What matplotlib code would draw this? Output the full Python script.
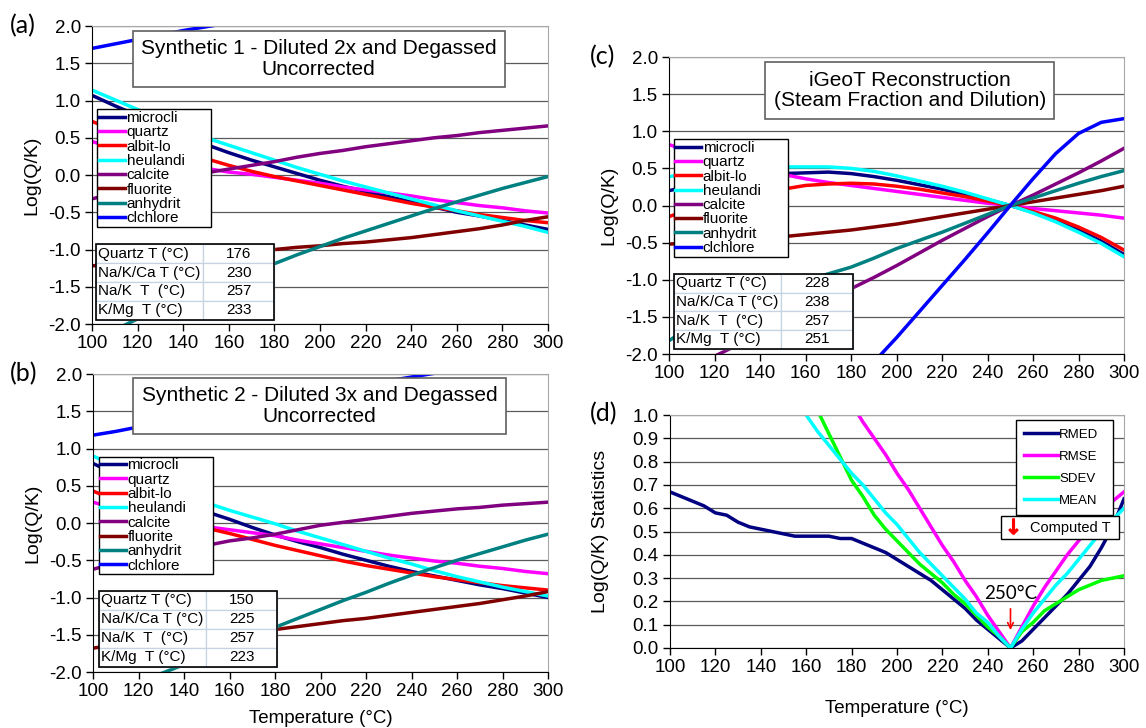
import numpy as np
import matplotlib
matplotlib.use("Agg")
import matplotlib.pyplot as plt
from matplotlib.lines import Line2D
from matplotlib.patches import Rectangle

plt.rcParams['font.family'] = ['Liberation Sans', 'DejaVu Sans']
plt.rcParams['axes.unicode_minus'] = False

# ---------------- data ----------------
T = list(range(100, 301, 10))
minerals = ['microcli', 'quartz', 'albit-lo', 'heulandi', 'calcite', 'fluorite', 'anhydrit', 'clchlore']
colors = ['#000080', '#FF00FF', '#FF0000', '#00FFFF', '#800080', '#800000', '#008080', '#0000FF']

# (a) Synthetic 1
a_microcli = [1.07, 0.93, 0.80, 0.66, 0.53, 0.41, 0.30, 0.20, 0.11, 0.02, -0.07, -0.15, -0.22, -0.29, -0.36, -0.43, -0.50, -0.55, -0.61, -0.67, -0.73]
a_quartz = [0.45, 0.36, 0.28, 0.21, 0.14, 0.09, 0.04, 0.01, -0.03, -0.07, -0.11, -0.16, -0.20, -0.24, -0.28, -0.33, -0.37, -0.41, -0.44, -0.48, -0.51]
a_albit = [0.72, 0.60, 0.49, 0.39, 0.30, 0.22, 0.13, 0.05, -0.02, -0.08, -0.14, -0.20, -0.26, -0.32, -0.38, -0.43, -0.48, -0.53, -0.57, -0.61, -0.64]
a_heulandi = [1.14, 1.01, 0.88, 0.75, 0.62, 0.50, 0.40, 0.30, 0.20, 0.10, 0.01, -0.08, -0.16, -0.24, -0.32, -0.40, -0.48, -0.55, -0.62, -0.69, -0.77]
a_calcite = [-0.32, -0.24, -0.17, -0.10, -0.03, 0.03, 0.08, 0.13, 0.18, 0.24, 0.29, 0.33, 0.38, 0.42, 0.46, 0.50, 0.53, 0.57, 0.60, 0.63, 0.66]
a_fluorite = [-1.22, -1.18, -1.15, -1.12, -1.09, -1.07, -1.05, -1.03, -1.00, -0.97, -0.95, -0.92, -0.90, -0.87, -0.84, -0.80, -0.76, -0.72, -0.67, -0.61, -0.56]
a_anhydrit = [-2.25, -2.08, -1.93, -1.78, -1.63, -1.49, -1.36, -1.27, -1.19, -1.07, -0.96, -0.85, -0.75, -0.65, -0.55, -0.45, -0.36, -0.27, -0.18, -0.10, -0.02]
a_clchlore = [1.70, 1.76, 1.82, 1.88, 1.94, 1.99, 2.04, 2.09, 2.14, 2.19, 2.24, 2.28, 2.33, 2.37, 2.41, 2.45, 2.49, 2.53, 2.57, 2.61, 2.65]
a_geo = ['176', '230', '257', '233']

# (b) Synthetic 2
b_microcli = [0.80, 0.65, 0.51, 0.38, 0.26, 0.15, 0.05, -0.06, -0.16, -0.25, -0.33, -0.42, -0.50, -0.58, -0.65, -0.71, -0.77, -0.83, -0.88, -0.94, -1.00]
b_quartz = [0.28, 0.19, 0.11, 0.04, -0.01, -0.05, -0.09, -0.13, -0.17, -0.23, -0.28, -0.33, -0.38, -0.43, -0.47, -0.51, -0.54, -0.58, -0.61, -0.65, -0.68]
b_albit = [0.43, 0.30, 0.19, 0.09, 0.00, -0.07, -0.14, -0.22, -0.30, -0.37, -0.44, -0.51, -0.57, -0.62, -0.67, -0.72, -0.76, -0.80, -0.84, -0.87, -0.90]
b_heulandi = [0.90, 0.76, 0.63, 0.50, 0.38, 0.27, 0.17, 0.08, -0.01, -0.11, -0.20, -0.29, -0.38, -0.47, -0.55, -0.64, -0.72, -0.79, -0.86, -0.92, -0.98]
b_calcite = [-0.62, -0.54, -0.47, -0.41, -0.35, -0.30, -0.24, -0.20, -0.15, -0.09, -0.03, 0.01, 0.05, 0.09, 0.13, 0.16, 0.19, 0.21, 0.24, 0.26, 0.28]
b_fluorite = [-1.68, -1.63, -1.59, -1.55, -1.51, -1.48, -1.46, -1.45, -1.43, -1.39, -1.35, -1.31, -1.28, -1.24, -1.20, -1.16, -1.12, -1.08, -1.03, -0.98, -0.92]
b_anhydrit = [-2.50, -2.33, -2.17, -2.02, -1.90, -1.74, -1.61, -1.50, -1.40, -1.28, -1.16, -1.04, -0.93, -0.81, -0.70, -0.60, -0.50, -0.41, -0.32, -0.23, -0.15]
b_clchlore = [1.18, 1.23, 1.29, 1.35, 1.41, 1.47, 1.53, 1.58, 1.64, 1.70, 1.75, 1.80, 1.86, 1.91, 1.96, 2.01, 2.06, 2.11, 2.16, 2.21, 2.25]
b_geo = ['150', '225', '257', '223']

# (c) iGeoT reconstruction
c_microcli = [0.20, 0.27, 0.33, 0.38, 0.41, 0.43, 0.44, 0.45, 0.43, 0.39, 0.34, 0.28, 0.22, 0.15, 0.08, 0.00, -0.09, -0.20, -0.33, -0.48, -0.66]
c_quartz = [0.82, 0.72, 0.62, 0.54, 0.47, 0.42, 0.36, 0.31, 0.27, 0.23, 0.19, 0.15, 0.11, 0.07, 0.03, 0.00, -0.04, -0.07, -0.10, -0.13, -0.17]
c_albit = [-0.15, -0.04, 0.06, 0.13, 0.18, 0.22, 0.27, 0.29, 0.30, 0.29, 0.26, 0.22, 0.17, 0.12, 0.06, 0.00, -0.08, -0.17, -0.29, -0.43, -0.60]
c_heulandi = [0.39, 0.43, 0.47, 0.50, 0.51, 0.52, 0.52, 0.52, 0.50, 0.46, 0.40, 0.33, 0.26, 0.18, 0.09, 0.00, -0.10, -0.22, -0.36, -0.51, -0.69]
c_calcite = [-2.35, -2.18, -2.03, -1.88, -1.73, -1.58, -1.42, -1.27, -1.12, -0.97, -0.81, -0.64, -0.47, -0.31, -0.15, 0.00, 0.14, 0.29, 0.44, 0.60, 0.77]
c_fluorite = [-0.52, -0.50, -0.48, -0.46, -0.44, -0.42, -0.39, -0.36, -0.33, -0.29, -0.25, -0.20, -0.15, -0.10, -0.05, 0.00, 0.05, 0.10, 0.15, 0.20, 0.26]
c_anhydrit = [-1.82, -1.62, -1.45, -1.31, -1.19, -1.10, -1.01, -0.92, -0.83, -0.71, -0.58, -0.47, -0.36, -0.24, -0.12, 0.00, 0.10, 0.20, 0.30, 0.39, 0.47]
c_clchlore = [np.nan] * 8 + [-2.45, -2.11, -1.78, -1.43, -1.08, -0.73, -0.37, 0.00, 0.36, 0.70, 0.97, 1.12, 1.17]
c_geo = ['228', '238', '257', '251']

geo_names = ['Quartz T (\u00b0C)', 'Na/K/Ca T (\u00b0C)', 'Na/K  T  (\u00b0C)', 'K/Mg  T (\u00b0C)']

# (d) statistics
Td = list(range(100, 301, 5))
rmed = [0.67, 0.65, 0.63, 0.61, 0.58, 0.57, 0.54, 0.52, 0.51, 0.50, 0.49, 0.48, 0.48, 0.48, 0.48, 0.47, 0.47, 0.45, 0.43, 0.41,
        0.38, 0.35, 0.32, 0.29, 0.25, 0.21, 0.17, 0.12, 0.08, 0.04, 0.00, 0.03, 0.08, 0.13, 0.18, 0.23, 0.29, 0.35, 0.43, 0.52, 0.64]
rmse = [np.nan] * 16 + [1.05, 0.97, 0.90, 0.83, 0.75, 0.68, 0.60, 0.52, 0.44, 0.37, 0.29, 0.22, 0.14, 0.07, 0.00,
                        0.09, 0.18, 0.26, 0.33, 0.40, 0.46, 0.52, 0.58, 0.63, 0.67]
sdev = [np.nan] * 13 + [1.02, 0.92, 0.82, 0.72, 0.65, 0.57, 0.51, 0.46, 0.41, 0.36, 0.32, 0.28, 0.23, 0.19, 0.14, 0.09, 0.05, 0.00,
                        0.07, 0.11, 0.16, 0.19, 0.22, 0.25, 0.27, 0.29, 0.30, 0.31]
mean = [np.nan] * 12 + [1.00, 0.93, 0.87, 0.81, 0.75, 0.70, 0.64, 0.58, 0.53, 0.47, 0.41, 0.36, 0.31, 0.26, 0.21, 0.15, 0.11, 0.05, 0.00,
                        0.08, 0.15, 0.21, 0.27, 0.32, 0.38, 0.44, 0.50, 0.55, 0.60]
stat_names = ['RMED', 'RMSE', 'SDEV', 'MEAN']
stat_colors = ['#000080', '#FF00FF', '#00FF00', '#00FFFF']
computed_T = 250

# ---------------- figure ----------------
fig = plt.figure(figsize=(11.46, 7.28), dpi=100)
ax_a = fig.add_axes([0.0803, 0.5549, 0.3979, 0.4093])
ax_b = fig.add_axes([0.0812, 0.0769, 0.3970, 0.4093])
ax_c = fig.add_axes([0.5838, 0.5137, 0.3970, 0.4080])
ax_d = fig.add_axes([0.5846, 0.1099, 0.3962, 0.3200])


def style_axes(ax, ymin, ymax, ystep):
    ax.set_xlim(100, 300)
    ax.set_ylim(ymin, ymax)
    ax.set_xticks(range(100, 301, 20))
    ax.set_yticks(np.round(np.arange(ymin, ymax + ystep / 2, ystep), 2))
    ax.yaxis.set_major_formatter(matplotlib.ticker.FormatStrFormatter('%.1f'))
    ax.grid(axis='y', color='#5a5a5a', lw=0.9)
    ax.set_axisbelow(True)
    for s in ['top', 'right']:
        ax.spines[s].set_color('#a8a8a8')
    for s in ['left', 'bottom']:
        ax.spines[s].set_color('black')
    ax.tick_params(direction='out', length=5, width=1, labelsize=13.5, pad=3)


def mineral_panel(ax, series, geo, title, title_xy, leg_box, tab_box):
    style_axes(ax, -2.0, 2.0, 0.5)
    for name, col, y in zip(minerals, colors, series):
        ax.plot(T, y, color=col, lw=2.5, label=name, clip_on=True)
    ax.set_ylabel('Log(Q/K)', fontsize=14)
    ax.yaxis.set_label_coords(-0.113, 0.5)
    ax.text(title_xy[0], title_xy[1], title, ha='center', va='center', fontsize=15,
            linespacing=1.1, zorder=6,
            bbox=dict(boxstyle='square,pad=0.4', fc='white', ec='#606060', lw=1.2))
    leg = ax.legend(loc='upper left', bbox_to_anchor=leg_box, mode='expand', fontsize=11,
                    frameon=True, fancybox=False, edgecolor='black', framealpha=1,
                    borderpad=0.1, labelspacing=0.02, handlelength=1.7, handletextpad=0.1,
                    borderaxespad=0)
    leg.get_frame().set_linewidth(1.0)
    leg.set_zorder(7)
    tb = ax.table(cellText=[[n, v] for n, v in zip(geo_names, geo)], cellLoc='left',
                  colWidths=[0.6, 0.4], bbox=tab_box)
    tb.auto_set_font_size(False)
    tb.set_fontsize(11)
    tb.set_zorder(7)
    for (r, c), cell in tb.get_celld().items():
        cell.set_edgecolor('#c5d3e3')
        cell.set_linewidth(0.9)
        cell.PAD = 0.02
        if c == 1:
            cell._loc = 'center'
            cell.get_text().set_ha('center')
    ax.add_patch(Rectangle((tab_box[0], tab_box[1]), tab_box[2], tab_box[3], transform=ax.transAxes,
                           fill=False, ec='black', lw=1.2, zorder=8, clip_on=False))


mineral_panel(ax_a, [a_microcli, a_quartz, a_albit, a_heulandi, a_calcite, a_fluorite, a_anhydrit, a_clchlore],
              a_geo, 'Synthetic 1 - Diluted 2x and Degassed\nUncorrected', (199.4, 1.56),
              (0.012, 0.0, 0.25, 0.72), [0.008, 0.015, 0.392, 0.2525])
mineral_panel(ax_b, [b_microcli, b_quartz, b_albit, b_heulandi, b_calcite, b_fluorite, b_anhydrit, b_clchlore],
              b_geo, 'Synthetic 2 - Diluted 3x and Degassed\nUncorrected', (199.5, 1.57),
              (0.012, 0.0, 0.251, 0.722), [0.012, 0.018, 0.393, 0.255])
mineral_panel(ax_c, [c_microcli, c_quartz, c_albit, c_heulandi, c_calcite, c_fluorite, c_anhydrit, c_clchlore],
              c_geo, 'iGeoT Reconstruction\n(Steam Fraction and Dilution)', (205.8, 1.55),
              (0.01, 0.0, 0.252, 0.7225), [0.01, 0.0175, 0.394, 0.2525])
ax_b.set_xlabel('Temperature (\u00b0C)', fontsize=13.5, labelpad=7)

# (d)
style_axes(ax_d, 0.0, 1.0, 0.1)
for name, col, y in zip(stat_names, stat_colors, [rmed, rmse, sdev, mean]):
    ax_d.plot(Td, y, color=col, lw=2.5, label=name)
ax_d.set_ylabel('Log(Q/K) Statistics', fontsize=14)
ax_d.yaxis.set_label_coords(-0.135, 0.5)
ax_d.set_xlabel('Temperature (\u00b0C)', fontsize=13.5, labelpad=17)
leg_d = ax_d.legend(loc='upper left', bbox_to_anchor=(0.7615, 0.0, 0.215, 0.977), mode='expand',
                    fontsize=9.5, frameon=True, fancybox=False, edgecolor='black', framealpha=1,
                    borderpad=0.6, labelspacing=0.75, handlelength=2.6, handletextpad=0.1,
                    borderaxespad=0)
leg_d.get_frame().set_linewidth(1.0)
ax_d.add_artist(leg_d)
arrow_handle = Line2D([], [], color='red', marker=r'$\downarrow$', markersize=11, linestyle='None')
leg_t = ax_d.legend([arrow_handle], ['Computed T'], loc='upper left',
                    bbox_to_anchor=(0.7295, 0.0, 0.26, 0.566), mode='expand', fontsize=10.5,
                    frameon=True, fancybox=False, edgecolor='black', framealpha=1,
                    borderpad=0.3, handlelength=1.0, handletextpad=0.7, borderaxespad=0)
leg_t.get_frame().set_linewidth(1.0)
ax_d.annotate('', xy=(computed_T, 0.065), xytext=(computed_T, 0.18),
              arrowprops=dict(arrowstyle='->', color='red', lw=1.2))
ax_d.text(computed_T, 0.235, '%d\u00b0C' % computed_T, ha='center', va='center', fontsize=13.5,
          family=['Lato', 'DejaVu Sans'])

for lab, xp, yp in [('(a)', 10, 26), ('(b)', 10, 374), ('(c)', 590, 57), ('(d)', 590, 414)]:
    fig.text(xp / 1146, 1 - yp / 728, lab, ha='left', va='center', fontsize=18,
             family=['Lato', 'DejaVu Sans'])

fig.savefig('out.png', dpi=100)
